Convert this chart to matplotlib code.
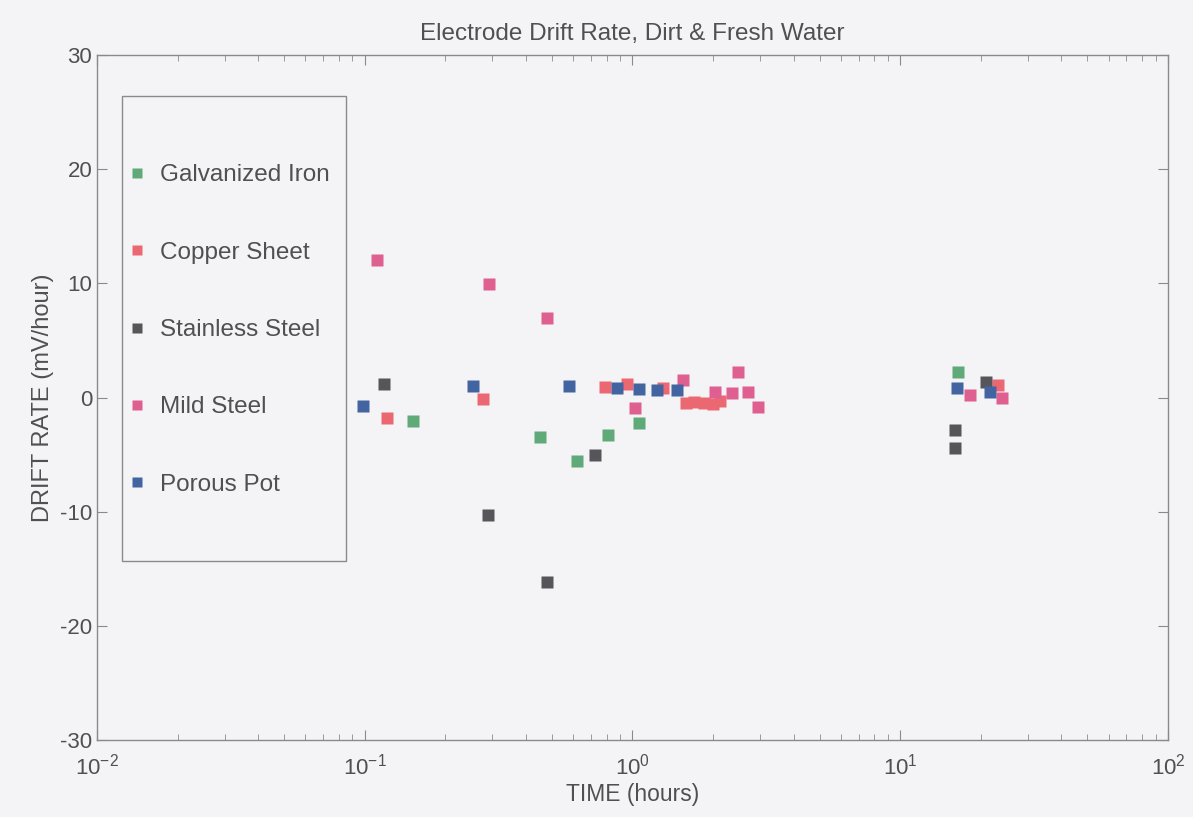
import numpy as np
import matplotlib
matplotlib.use("Agg")
import matplotlib.pyplot as plt
from matplotlib.patches import Rectangle

plt.rcParams['font.family'] = ['Liberation Sans', 'DejaVu Sans']
plt.rcParams['axes.unicode_minus'] = False

# drift rate (mV/hour) vs elapsed time (hours) for each electrode
galv_t = [0.151, 0.452, 0.621, 0.807, 1.054, 16.5]
galv_r = [-2.06, -3.46, -5.56, -3.26, -2.2, 2.26]

copper_t = [0.121, 0.277, 0.789, 0.951, 1.30, 1.59, 1.70, 1.85, 2.0, 2.12, 23.2]
copper_r = [-1.77, -0.16, 0.95, 1.18, 0.8, -0.5, -0.4, -0.5, -0.6, -0.3, 1.09]

stain_t = [0.118, 0.289, 0.480, 0.723, 16.0, 16.0, 21.0]
stain_r = [1.18, -10.29, -16.13, -5.06, -2.85, -4.45, 1.38]

mild_t = [0.111, 0.291, 0.480, 1.024, 1.548, 2.03, 2.345, 2.484, 2.705, 2.951, 18.2, 23.9]
mild_r = [12.04, 9.91, 6.99, -0.95, 1.53, 0.51, 0.37, 2.26, 0.51, -0.81, 0.22, -0.07]

pot_t = [0.0988, 0.254, 0.581, 0.873, 1.057, 1.231, 1.462, 16.25, 21.6]
pot_r = [-0.74, 1.03, 1.0, 0.8, 0.74, 0.66, 0.66, 0.8, 0.51]

bg = '#f4f4f7'
txt = '#505050'

fig = plt.figure(figsize=(11.93, 8.17), dpi=100, facecolor=bg)
ax = fig.add_axes([0.0813, 0.0942, 0.8977, 0.8385], facecolor=bg)

series = [
    (galv_t, galv_r, '#5faa78', 'Galvanized Iron'),
    (copper_t, copper_r, '#eb6873', 'Copper Sheet'),
    (stain_t, stain_r, '#55555a', 'Stainless Steel'),
    (mild_t, mild_r, '#e05f91', 'Mild Steel'),
    (pot_t, pot_r, '#4264a0', 'Porous Pot'),
]
for t, r, c, lab in series:
    ax.plot(t, r, linestyle='none', marker='s', ms=8.5, mec='none', color=c, label=lab)

ax.set_xscale('log')
ax.set_xlim(1e-2, 1e2)
ax.set_ylim(-30, 30)
ax.set_yticks([-30, -20, -10, 0, 10, 20, 30])

for s in ax.spines.values():
    s.set_color('#8a8a8a')
    s.set_linewidth(1.0)
ax.tick_params(which='both', direction='in', top=True, right=True,
               colors='#8a8a8a', labelcolor=txt, labelsize=16)
ax.tick_params(which='major', length=7)
ax.tick_params(which='minor', length=4)
ax.tick_params(axis='x', pad=10)

ax.set_title('Electrode Drift Rate, Dirt & Fresh Water', fontsize=17.5, color=txt, pad=11)
ax.set_xlabel('TIME (hours)', fontsize=16.5, color=txt, labelpad=2)
ax.set_ylabel('DRIFT RATE (mV/hour)', fontsize=17, color=txt, labelpad=4)

# legend frame drawn separately so the entries can be spread out
ax.add_patch(Rectangle((0.0233, 0.261), 0.2092, 0.679, transform=ax.transAxes,
                       fill=False, edgecolor='#8a8a8a', linewidth=1.0, zorder=5))
leg = ax.legend(loc='center left', bbox_to_anchor=(0.029, 0.5985), frameon=False,
                fontsize=17.5, labelspacing=2.28, handlelength=0.75, handletextpad=0.55,
                borderpad=0, borderaxespad=0, markerscale=0.8)
for t in leg.get_texts():
    t.set_color(txt)

fig.savefig('out.png', dpi=100, facecolor=bg)
